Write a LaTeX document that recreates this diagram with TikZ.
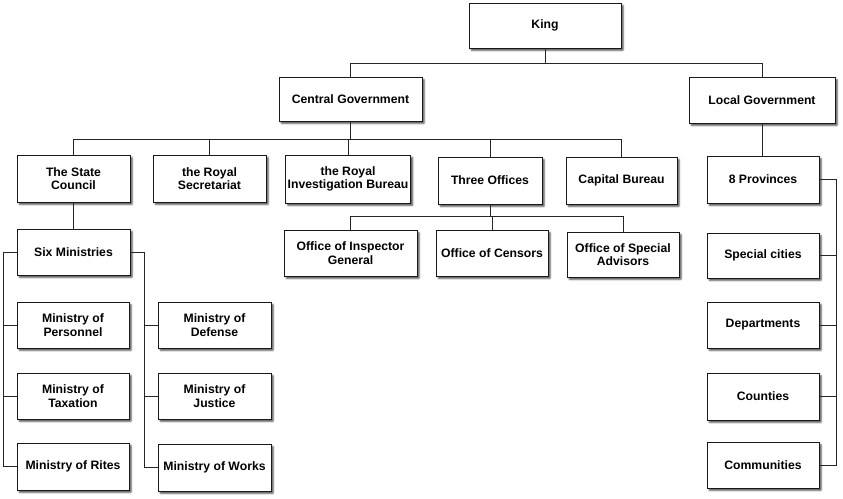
\documentclass[tikz,border=0pt]{standalone}
\usepackage{fontspec}
\setmainfont{Liberation Sans}
\usetikzlibrary{shadows.blur}
\begin{document}
\begin{tikzpicture}[x=1pt,y=-1pt,
  orgbox/.style={draw=black!90, line width=0.8pt, fill=white, align=center,
    inner sep=0pt, minimum height=46pt,
    font=\fontsize{12.2}{13.5}\selectfont\bfseries,
    blur shadow={shadow xshift=2.2pt, shadow yshift=-2.4pt, shadow blur steps=5, shadow opacity=70, shadow blur radius=1.6pt, shadow blur extra rounding=0.5pt}},
  link/.style={draw=black!85, line width=0.8pt}]
\useasboundingbox (0,0) rectangle (843,498);
% level 0-1
\node[orgbox, minimum width=152pt, minimum height=45pt] (king) at (545,25.5) {King};
\node[orgbox, minimum width=143pt, minimum height=44pt] (central) at (350.5,99) {Central Government};
\node[orgbox, minimum width=146pt] (local) at (762,100) {Local Government};
% level 2
\node[orgbox, minimum width=113pt, minimum height=47pt] (state) at (73.5,178.5) {The State\\Council};
\node[orgbox, minimum width=113pt, minimum height=47pt] (secr) at (209.5,178.5) {the Royal\\Secretariat};
\node[orgbox, minimum width=125pt, minimum height=48pt] (invest) at (348,179) {the Royal\\Investigation Bureau};
\node[orgbox, minimum width=104pt, minimum height=47pt] (three) at (490,180.5) {Three Offices};
\node[orgbox, minimum width=111pt, minimum height=47pt] (capital) at (621.5,180.5) {Capital Bureau};
\node[orgbox, minimum width=112pt, minimum height=47pt] (prov) at (763,179.5) {8 Provinces};
% three offices
\node[orgbox, minimum width=133pt] (oig) at (350.5,253) {Office of Inspector\\General};
\node[orgbox, minimum width=112pt] (cens) at (492,253) {Office of Censors};
\node[orgbox, minimum width=112pt, minimum height=45pt] (osa) at (623,254.5) {Office of Special\\Advisors};
% ministries
\node[orgbox, minimum width=113pt] (six) at (73.5,252) {Six Ministries};
\node[orgbox, minimum width=112pt] (pers) at (73,325) {Ministry of\\Personnel};
\node[orgbox, minimum width=112pt] (tax) at (73,396) {Ministry of\\Taxation};
\node[orgbox, minimum width=112pt, minimum height=47pt] (rites) at (73,466.5) {Ministry of Rites};
\node[orgbox, minimum width=113pt] (def) at (214.5,325) {Ministry of\\Defense};
\node[orgbox, minimum width=113pt] (just) at (214.5,396) {Ministry of\\Justice};
\node[orgbox, minimum width=113pt, minimum height=47pt] (works) at (214.5,467.5) {Ministry of Works};
% local
\node[orgbox, minimum width=112pt, minimum height=45pt] (cities) at (763,255.5) {Special cities};
\node[orgbox, minimum width=112pt] (dept) at (763,325) {Departments};
\node[orgbox, minimum width=112pt, minimum height=47pt] (counties) at (763,396.5) {Counties};
\node[orgbox, minimum width=112pt] (comm) at (763,465) {Communities};
% bus coordinates
\coordinate (busK) at (0,63);
\coordinate (busC) at (0,139);
\coordinate (busT) at (0,216);
\coordinate (lbus) at (3,0);
\coordinate (rbus) at (144,0);
\coordinate (pbus) at (836,0);
% connectors
\draw[link] (king.south) -- (king.south|-busK);
\draw[link] (central.north) -- (central.north|-busK) -- (local.north|-busK) -- (local.north);
\draw[link] (central.south) -- (central.south|-busC);
\draw[link] (state.north) -- (state.north|-busC) -- (capital.north|-busC) -- (capital.north);
\draw[link] (secr.north|-busC) -- (secr.north);
\draw[link] (invest.north|-busC) -- (invest.north);
\draw[link] (three.north|-busC) -- (three.north);
\draw[link] (local.south) -- (local.south|-prov.north);
\draw[link] (three.south) -- (three.south|-busT);
\draw[link] (oig.north) -- (oig.north|-busT) -- (osa.north|-busT) -- (osa.north);
\draw[link] (cens.north|-busT) -- (cens.north);
\draw[link] (state.south) -- (six.north);
\draw[link] (six.west) -| (lbus|-rites.west) -- (rites.west);
\draw[link] (lbus|-pers.west) -- (pers.west);
\draw[link] (lbus|-tax.west) -- (tax.west);
\draw[link] (six.east) -| (rbus|-works.west) -- (works.west);
\draw[link] (rbus|-def.west) -- (def.west);
\draw[link] (rbus|-just.west) -- (just.west);
\draw[link] (prov.east) -| (pbus|-comm.east) -- (comm.east);
\draw[link] (pbus|-cities.east) -- (cities.east);
\draw[link] (pbus|-dept.east) -- (dept.east);
\draw[link] (pbus|-counties.east) -- (counties.east);
\end{tikzpicture}
\end{document}
